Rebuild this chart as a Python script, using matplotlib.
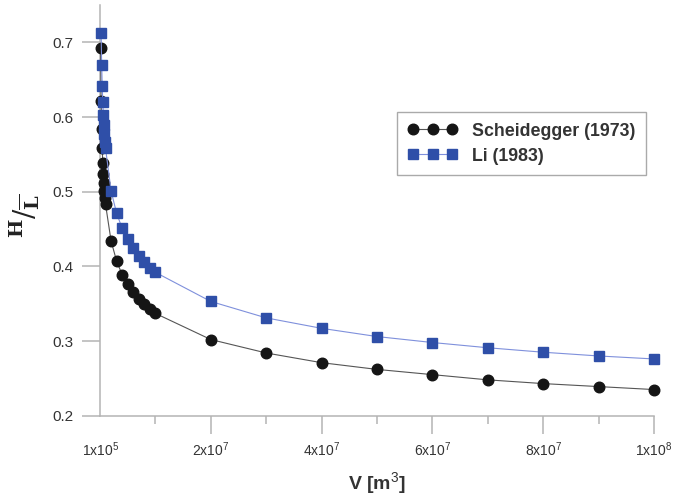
import matplotlib
matplotlib.use('Agg')
import matplotlib.pyplot as plt
from matplotlib.ticker import FixedLocator

# volumes (m3) and H/L values
volume_scheidegger = [1e5, 2e5, 3e5, 4e5, 5e5, 6e5, 7e5, 8e5, 9e5,
                      1e6, 2e6, 3e6, 4e6, 5e6, 6e6, 7e6, 8e6, 9e6,
                      1e7, 2e7, 3e7, 4e7, 5e7, 6e7, 7e7, 8e7, 9e7, 1e8]
hl_scheidegger = [0.693, 0.622, 0.584, 0.558, 0.539, 0.524, 0.511, 0.501, 0.491,
                  0.483, 0.434, 0.407, 0.389, 0.376, 0.365, 0.356, 0.349, 0.343,
                  0.337, 0.302, 0.284, 0.271, 0.262, 0.255, 0.248, 0.243, 0.239, 0.235]

volume_li = [2e5, 3e5, 4e5, 5e5, 6e5, 7e5, 8e5, 9e5,
             1e6, 2e6, 3e6, 4e6, 5e6, 6e6, 7e6, 8e6, 9e6,
             1e7, 2e7, 3e7, 4e7, 5e7, 6e7, 7e7, 8e7, 9e7, 1e8]
hl_li = [0.713, 0.670, 0.641, 0.620, 0.603, 0.589, 0.577, 0.567,
         0.558, 0.501, 0.471, 0.451, 0.436, 0.424, 0.414, 0.406, 0.398,
         0.392, 0.353, 0.331, 0.317, 0.306, 0.298, 0.291, 0.285, 0.280, 0.276]

x_ticks = [1e5, 2e7, 4e7, 6e7, 8e7, 1e8]
x_ticklabels = [r'1x10$^5$', r'2x10$^7$', r'4x10$^7$', r'6x10$^7$', r'8x10$^7$', r'1x10$^8$']
x_minor = [1e7, 3e7, 5e7, 7e7, 9e7]
y_ticks = [0.2, 0.3, 0.4, 0.5, 0.6, 0.7]

plt.rcParams['font.family'] = ['Liberation Sans', 'DejaVu Sans']
plt.rcParams['mathtext.fontset'] = 'custom'
plt.rcParams['mathtext.rm'] = 'Liberation Sans'

axis_grey = '#b4b4b4'
text_grey = '#333333'

fig = plt.figure(figsize=(6.86, 5.03), dpi=100)
ax = fig.add_axes([100/686, 87.3/503, 554/686, 410.7/503])

ax.plot(volume_scheidegger, hl_scheidegger, color='#555555', lw=0.8, marker='o',
        markersize=7.6, markerfacecolor='#151515', markeredgecolor='#151515',
        label='Scheidegger (1973)', zorder=3, clip_on=False)
ax.plot(volume_li, hl_li, color='#7f90dc', lw=0.8, marker='s',
        markersize=7, markerfacecolor='#2f4fa8', markeredgecolor='#2f4fa8',
        label='Li (1983)', zorder=4, clip_on=False)

ax.set_xlim(0, 1e8)
ax.set_ylim(0.2, 0.75)

for side in ['top', 'right']:
    ax.spines[side].set_visible(False)
for side in ['left', 'bottom']:
    ax.spines[side].set_color(axis_grey)
    ax.spines[side].set_linewidth(1.1)

ax.set_xticks(x_ticks)
ax.set_xticklabels(x_ticklabels)
ax.xaxis.set_minor_locator(FixedLocator(x_minor))
ax.set_yticks(y_ticks)
ax.set_yticklabels([f'{v:.1f}' for v in y_ticks])
ax.tick_params(axis='x', which='major', length=13, width=1.1, color=axis_grey,
               labelsize=10, labelcolor=text_grey, pad=5)
ax.tick_params(axis='x', which='minor', length=5.8, width=1.1, color=axis_grey)
ax.tick_params(axis='y', length=13, width=1.1, color=axis_grey,
               labelsize=11, labelcolor=text_grey, pad=6)
ax.xaxis.get_major_ticks()[0].tick1line.set_visible(False)

ax.set_xlabel(r'V [m$^3$]', fontsize=14, fontweight='bold', color=text_grey, labelpad=8)

# y label: H over slash over L with a bar, in serif
fig.text(25/686, 1 - 216/503, r'${}^{\mathbf{H}}/{}_{\overline{\mathbf{L}}}$',
         rotation=90, ha='center', va='center', fontsize=20, color='#222222',
         math_fontfamily='dejavuserif')

leg = ax.legend(loc='upper right', bbox_to_anchor=(0.9856, 0.7395), borderaxespad=0,
                numpoints=3, handlelength=2.8, handletextpad=0.8, labelspacing=0.45,
                borderpad=0.6, fancybox=False, edgecolor='#aaaaaa', framealpha=1,
                prop={'size': 12.8, 'weight': 'bold'})
leg.get_frame().set_linewidth(1.0)
for t in leg.get_texts():
    t.set_color(text_grey)

fig.savefig('out.png', dpi=100)
